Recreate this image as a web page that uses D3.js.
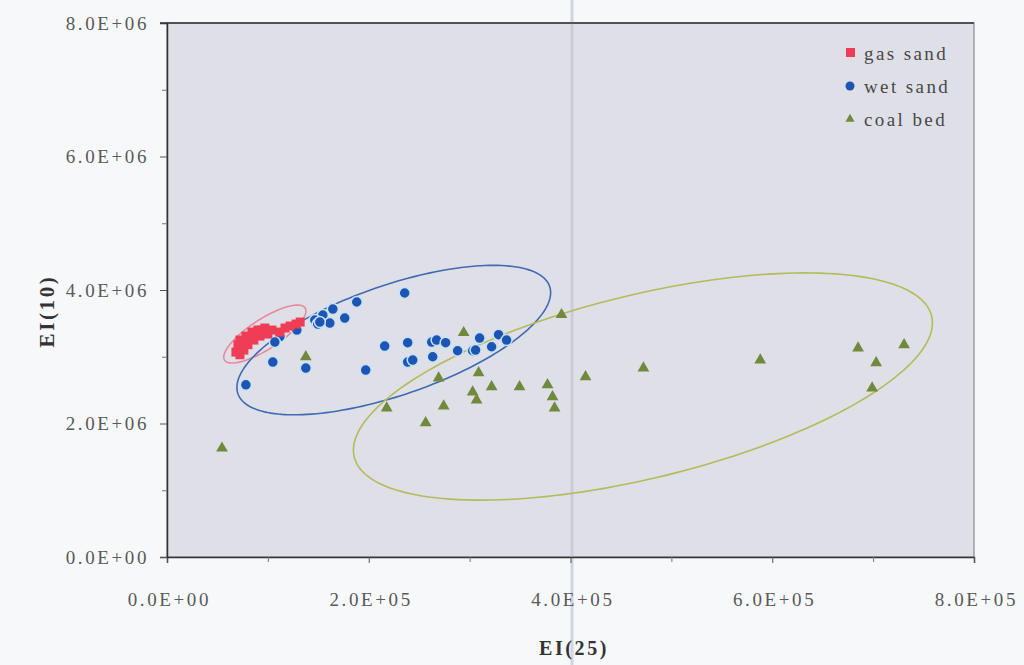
<!DOCTYPE html>
<meta charset="utf-8">
<style>
body { margin: 0; background: #f6f8fa; }
svg { display: block; }
.tick text { font-family: "Liberation Serif", "DejaVu Serif", serif; font-size: 19px; letter-spacing: 2.6px; fill: #5a5a5a; }
.axis-title { font-family: "Liberation Serif", serif; font-weight: bold; font-size: 20px; letter-spacing: 2.6px; fill: #333; }
.legend text { font-family: "Liberation Serif", serif; font-size: 19px; letter-spacing: 2.4px; fill: #484848; }
</style>
<svg width="1024" height="665"></svg>
<script src="https://cdn.jsdelivr.net/npm/d3@7"></script>
<script>

// data: EI(25), EI(10)
const gasX = [68300, 70300, 72300, 74300, 76200, 78200, 80200, 82200, 84200, 86100, 88100, 90100,
              92100, 94100, 97000, 100000, 104000, 112000, 117000, 122000, 128000, 132000, 72300, 76200];
const gasY = [3.07e6, 3.18e6, 3.25e6, 3.13e6, 3.22e6, 3.31e6, 3.18e6, 3.28e6, 3.37e6, 3.25e6, 3.34e6, 3.40e6,
              3.31e6, 3.40e6, 3.43e6, 3.34e6, 3.40e6, 3.37e6, 3.43e6, 3.46e6, 3.49e6, 3.52e6, 3.03e6, 3.10e6];

const wetX = [235600, 188100, 164400, 154500, 146500, 161400, 176200, 149500, 128700, 111900, 106900, 104900,
              137600, 78200, 197000, 215800, 238600, 238600, 243600, 263400, 262400, 267300, 276200, 288100,
              303000, 309900, 321800, 328700, 336600, 305900, 151500];
const wetY = [3.955e6, 3.82e6, 3.715e6, 3.625e6, 3.55e6, 3.505e6, 3.58e6, 3.49e6, 3.40e6, 3.30e6, 3.22e6, 2.92e6,
              2.83e6, 2.58e6, 2.80e6, 3.16e6, 3.21e6, 2.92e6, 2.95e6, 3.00e6, 3.22e6, 3.25e6, 3.21e6, 3.09e6,
              3.09e6, 3.28e6, 3.15e6, 3.33e6, 3.25e6, 3.10e6, 3.52e6];

const coalX = [54500, 137600, 217800, 256400, 274300, 269300, 294100, 303000, 306900, 308900, 321800, 349500,
               377200, 382200, 384200, 391100, 414900, 472300, 588100, 685100, 703000, 699000, 730700];
const coalY = [1.63e6, 3.00e6, 2.23e6, 2.01e6, 2.26e6, 2.68e6, 3.36e6, 2.47e6, 2.35e6, 2.76e6, 2.55e6, 2.55e6,
               2.58e6, 2.40e6, 2.23e6, 3.63e6, 2.70e6, 2.83e6, 2.95e6, 3.13e6, 2.91e6, 2.53e6, 3.18e6];

// cluster ellipses: centre, half major axis vector, half minor axis vector (data units)
const ellipseNames = ["gas", "wet", "coal"];
const ellipseCentre = [[97000, 3.34e6], [224800, 3.25e6], [471800, 2.554e6]];
const ellipseMajor = [[39900, 0.391e6], [154500, 0.804e6], [286200, 1.056e6]];
const ellipseMinor = [[8100, -0.189e6], [17700, -0.779e6], [21500, -1.335e6]];

const xTicks = [0, 2e5, 4e5, 6e5, 8e5];
const yTicks = [0, 2e6, 4e6, 6e6, 8e6];
const xMinor = [1e5, 3e5, 5e5, 7e5];
const yMinor = [1e6, 3e6, 5e6, 7e6];
const legendNames = ["gas sand", "wet sand", "coal bed"];

const colours = {gas: "#ee3d55", wet: "#1d55b5", coal: "#6f8a3c"};
const ellipseColours = {gas: "#e98a9c", wet: "#3f6bb3", coal: "#b4bb5a"};

const plotLeft = 167, plotRight = 974, plotTop = 23, plotBottom = 557;

const svg = d3.select("svg");

const x = d3.scaleLinear().domain([0, 8e5]).range([plotLeft, plotRight]);
const y = d3.scaleLinear().domain([0, 8e6]).range([plotBottom, plotTop]);

function sci(v) {
  if (v === 0) return "0.0E+00";
  const e = Math.floor(Math.log10(v));
  return (v / Math.pow(10, e)).toFixed(1) + "E+" + String(e).padStart(2, "0");
}

// plot area
svg.append("rect")
  .attr("x", plotLeft).attr("y", plotTop)
  .attr("width", plotRight - plotLeft).attr("height", plotBottom - plotTop)
  .attr("fill", "#dfdfe7")
  .attr("stroke", "#9a9aa2")
  .attr("stroke-width", 1.5);

// scan fold line
svg.append("line")
  .attr("x1", 572).attr("x2", 572).attr("y1", 0).attr("y2", 665)
  .attr("stroke", "#c2c5da").attr("stroke-width", 3).attr("opacity", 0.7);

// axes
const xAxis = svg.append("g")
  .attr("transform", "translate(0," + plotBottom + ")")
  .call(d3.axisBottom(x).tickValues(xTicks).tickFormat(sci).tickSize(6).tickPadding(30));
xAxis.select(".domain").attr("stroke", "#333").attr("stroke-width", 1.5);
xAxis.selectAll(".tick line").attr("stroke", "#555");
xAxis.selectAll(".tick text").attr("dx", "0.1em");

svg.append("g")
  .attr("transform", "translate(0," + plotBottom + ")")
  .call(d3.axisBottom(x).tickValues(xMinor).tickFormat("").tickSize(5))
  .call(g => g.select(".domain").remove())
  .selectAll(".tick line").attr("stroke", "#777");

const yAxis = svg.append("g")
  .attr("transform", "translate(" + plotLeft + ",0)")
  .call(d3.axisLeft(y).tickValues(yTicks).tickFormat(sci).tickSize(7).tickPadding(11));
yAxis.select(".domain").attr("stroke", "#333").attr("stroke-width", 1.5);
yAxis.selectAll(".tick line").attr("stroke", "#555");

svg.append("g")
  .attr("transform", "translate(" + plotLeft + ",0)")
  .call(d3.axisLeft(y).tickValues(yMinor).tickFormat("").tickSize(5))
  .call(g => g.select(".domain").remove())
  .selectAll(".tick line").attr("stroke", "#777");

svg.append("line")
  .attr("x1", plotLeft - 7).attr("x2", plotRight).attr("y1", plotTop).attr("y2", plotTop)
  .attr("stroke", "#333").attr("stroke-width", 1.5);

// axis titles
svg.append("text").attr("class", "axis-title")
  .attr("x", 574).attr("y", 655).attr("text-anchor", "middle")
  .text("EI(25)");
svg.append("text").attr("class", "axis-title")
  .attr("transform", "translate(54,311) rotate(-90)")
  .attr("text-anchor", "middle")
  .style("font-size", "21px")
  .text("EI(10)");

// ellipses
const ellipseLine = d3.line()
  .x(d => x(d[0])).y(d => y(d[1]))
  .curve(d3.curveLinearClosed);

ellipseNames.forEach(function(name, i) {
  const pts = d3.range(0, 2 * Math.PI, Math.PI / 90).map(function(t) {
    return [ellipseCentre[i][0] + ellipseMajor[i][0] * Math.cos(t) + ellipseMinor[i][0] * Math.sin(t),
            ellipseCentre[i][1] + ellipseMajor[i][1] * Math.cos(t) + ellipseMinor[i][1] * Math.sin(t)];
  });
  svg.append("path")
    .attr("d", ellipseLine(pts))
    .attr("fill", "none")
    .attr("stroke", ellipseColours[name])
    .attr("stroke-width", 1.6);
});

// points
const coal = coalX.map((v, i) => [v, coalY[i]]);
const wet = wetX.map((v, i) => [v, wetY[i]]);
const gas = gasX.map((v, i) => [v, gasY[i]]);

const tri = d3.symbol().type(d3.symbolTriangle).size(60);

svg.append("g").selectAll("path")
  .data(coal).enter().append("path")
  .attr("d", tri)
  .attr("transform", d => "translate(" + x(d[0]) + "," + y(d[1]) + ")")
  .attr("fill", colours.coal);

svg.append("g").selectAll("circle")
  .data(wet).enter().append("circle")
  .attr("cx", d => x(d[0])).attr("cy", d => y(d[1]))
  .attr("r", 5.5)
  .attr("fill", colours.wet)
  .attr("stroke", "#c8e2f6").attr("stroke-width", 1.5);

svg.append("g").selectAll("rect")
  .data(gas).enter().append("rect")
  .attr("x", d => x(d[0]) - 4.5).attr("y", d => y(d[1]) - 4.5)
  .attr("width", 9).attr("height", 9)
  .attr("fill", colours.gas);

// legend
const legend = svg.append("g").attr("class", "legend");
legendNames.forEach(function(name, i) {
  const ly = 53 + i * 33;
  const key = ellipseNames[i];
  if (key === "gas") {
    legend.append("rect").attr("x", 846).attr("y", ly - 5).attr("width", 9).attr("height", 9)
      .attr("fill", colours.gas);
  } else if (key === "wet") {
    legend.append("circle").attr("cx", 850).attr("cy", ly).attr("r", 4.5).attr("fill", colours.wet);
  } else {
    legend.append("path").attr("d", d3.symbol().type(d3.symbolTriangle).size(36))
      .attr("transform", "translate(850," + ly + ")").attr("fill", colours.coal);
  }
  legend.append("text").attr("x", 864).attr("y", ly + 7).text(name);
});
</script>
